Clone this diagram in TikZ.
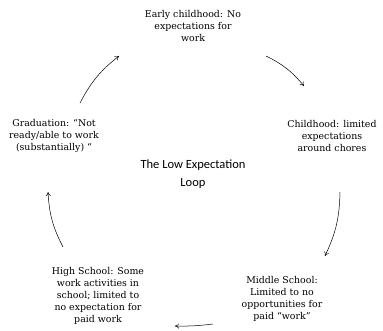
\documentclass[tikz,border=0pt]{standalone}
\usepackage{fontspec}
\setmainfont{DejaVu Serif}
\newfontfamily\labelsans{Carlito}
\usetikzlibrary{arrows.meta}
\begin{document}
\begin{tikzpicture}[x=1pt,y=-1pt,
  stage/.style={align=center,font=\fontsize{9.4}{11.8}\selectfont,inner sep=0pt},
  title/.style={align=center,font=\labelsans\fontsize{12.5}{17.5}\selectfont,inner sep=0pt},
  loop/.style={-{To[length=4pt,width=5pt]},line width=0.5pt,bend left=12}]
\useasboundingbox (0,0) rectangle (383,330);
\node[stage] (early) at (193,26) {Early childhood: No\\expectations for\\work};
\node[stage] (child) at (332,136) {Childhood: limited\\expectations\\around chores};
\node[stage] (middle) at (282,299) {Middle School:\\Limited to no\\opportunities for\\paid “work”};
\node[stage] (high) at (98,296) {High School: Some\\work activities in\\school; limited to\\no expectation for\\paid work};
\node[stage] (grad) at (54,136) {Graduation: “Not\\ready/able to work\\(substantially) “};
\node[title] (ttl) at (193,174) {The Low Expectation\\Loop};
\coordinate (a1s) at (80,103);
\coordinate (a1e) at (119,56);
\coordinate (a2s) at (266,56);
\coordinate (a2e) at (304,86);
\coordinate (a3s) at (340,192);
\coordinate (a3e) at (325,256);
\coordinate (a4s) at (213,324);
\coordinate (a4e) at (175,326);
\coordinate (a5s) at (63,247);
\coordinate (a5e) at (48,192);
\draw[loop] (a1s) to (a1e);
\draw[loop] (a2s) to (a2e);
\draw[loop] (a3s) to (a3e);
\draw[loop,bend left=4] (a4s) to (a4e);
\draw[loop] (a5s) to (a5e);
\end{tikzpicture}
\end{document}
